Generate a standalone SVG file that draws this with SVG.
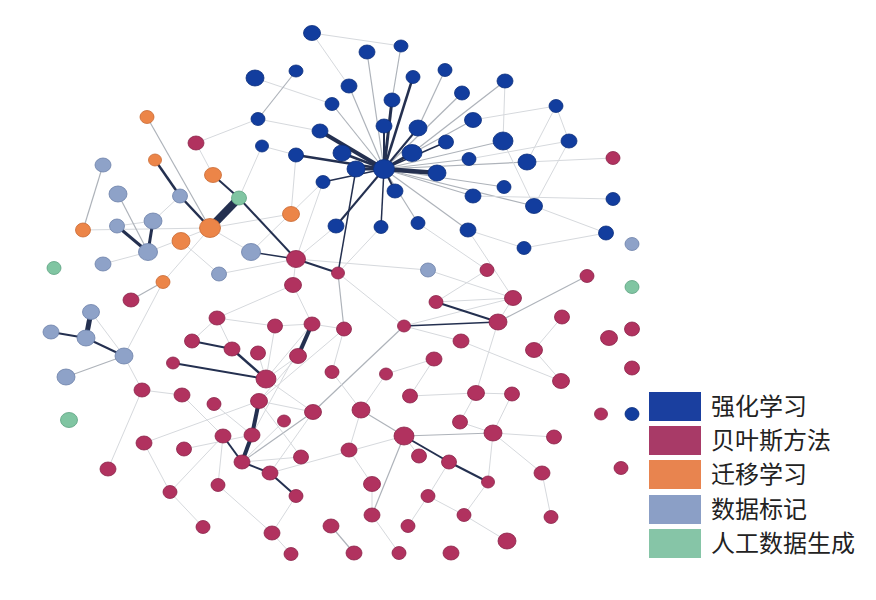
<svg xmlns="http://www.w3.org/2000/svg" width="876" height="600" viewBox="0 0 876 600">
<style>
.b{fill:#123d9e;stroke:#0b2e7c;stroke-width:0.8}
.r{fill:#b1325f;stroke:#8a2349;stroke-width:0.8}
.o{fill:#ec8548;stroke:#c96a33;stroke-width:0.8}
.l{fill:#8ea2c8;stroke:#6d82a9;stroke-width:0.8}
.g{fill:#80c5a2;stroke:#5da282;stroke-width:0.8}
.F{stroke:#d6d9dd;stroke-width:1;fill:none}
.G{stroke:#aeb3ba;stroke-width:1.2;fill:none}
.D{stroke:#243050;fill:none}
.lt{font-family:"Noto Sans CJK SC","Noto Sans",sans-serif;font-size:24px;fill:#222}
</style>
<rect width="876" height="600" fill="#fff"/>
<g id="edges">
<line class="F" x1="255" y1="78" x2="332" y2="104"/>
<line class="G" x1="296" y1="71" x2="258" y2="119"/>
<line class="F" x1="312" y1="33" x2="349" y2="86"/>
<line class="F" x1="312" y1="33" x2="401" y2="46"/>
<line class="G" x1="401" y1="46" x2="392" y2="100"/>
<line class="G" x1="367" y1="52" x2="384" y2="169"/>
<line class="G" x1="445" y1="70" x2="418" y2="128"/>
<line class="G" x1="349" y1="86" x2="384" y2="169"/>
<line class="G" x1="332" y1="104" x2="384" y2="169"/>
<line class="G" x1="505" y1="81" x2="412" y2="153"/>
<line class="G" x1="462" y1="93" x2="384" y2="169"/>
<line class="F" x1="556" y1="106" x2="473" y2="120"/>
<line class="F" x1="556" y1="106" x2="527" y2="162"/>
<line class="F" x1="556" y1="106" x2="569" y2="141"/>
<line class="F" x1="505" y1="81" x2="503" y2="141"/>
<line class="F" x1="569" y1="141" x2="469" y2="159"/>
<line class="F" x1="527" y1="162" x2="613" y2="158"/>
<line class="G" x1="473" y1="120" x2="384" y2="169"/>
<line class="G" x1="503" y1="141" x2="384" y2="169"/>
<line class="G" x1="469" y1="159" x2="384" y2="169"/>
<line class="G" x1="527" y1="162" x2="384" y2="169"/>
<line class="G" x1="473" y1="196" x2="384" y2="169"/>
<line class="G" x1="504" y1="187" x2="384" y2="169"/>
<line class="G" x1="534" y1="206" x2="384" y2="169"/>
<line class="F" x1="473" y1="196" x2="613" y2="199"/>
<line class="F" x1="534" y1="206" x2="606" y2="233"/>
<line class="F" x1="524" y1="248" x2="606" y2="233"/>
<line class="F" x1="569" y1="141" x2="534" y2="206"/>
<line class="F" x1="503" y1="141" x2="534" y2="206"/>
<line class="G" x1="418" y1="223" x2="384" y2="169"/>
<line class="G" x1="468" y1="230" x2="384" y2="169"/>
<line class="F" x1="258" y1="119" x2="320" y2="131"/>
<line class="F" x1="262" y1="146" x2="296" y2="155"/>
<line class="F" x1="468" y1="230" x2="524" y2="248"/>
<line class="F" x1="418" y1="223" x2="487" y2="270"/>
<line class="F" x1="381" y1="227" x2="338" y2="273"/>
<line class="F" x1="468" y1="230" x2="513" y2="298"/>
<line class="F" x1="323" y1="182" x2="296" y2="259"/>
<line class="F" x1="251" y1="252" x2="323" y2="182"/>
<line class="F" x1="291" y1="214" x2="296" y2="155"/>
<line class="F" x1="239" y1="198" x2="262" y2="146"/>
<line class="F" x1="296" y1="259" x2="336" y2="226"/>
<line class="F" x1="219" y1="274" x2="296" y2="259"/>
<line class="F" x1="210" y1="228" x2="251" y2="252"/>
<line class="F" x1="181" y1="241" x2="219" y2="274"/>
<line class="F" x1="196" y1="143" x2="258" y2="119"/>
<line class="F" x1="196" y1="143" x2="213" y2="175"/>
<line class="F" x1="83" y1="230" x2="210" y2="228"/>
<line class="F" x1="148" y1="252" x2="210" y2="228"/>
<line class="F" x1="210" y1="228" x2="291" y2="214"/>
<line class="G" x1="147" y1="117" x2="210" y2="228"/>
<line class="F" x1="153" y1="221" x2="180" y2="196"/>
<line class="F" x1="117" y1="226" x2="153" y2="221"/>
<line class="G" x1="103" y1="165" x2="83" y2="230"/>
<line class="G" x1="118" y1="194" x2="148" y2="252"/>
<line class="F" x1="103" y1="264" x2="148" y2="252"/>
<line class="F" x1="91" y1="312" x2="124" y2="356"/>
<line class="G" x1="131" y1="300" x2="163" y2="282"/>
<line class="F" x1="163" y1="282" x2="124" y2="356"/>
<line class="F" x1="163" y1="282" x2="210" y2="228"/>
<line class="F" x1="124" y1="356" x2="142" y2="390"/>
<line class="F" x1="296" y1="259" x2="293" y2="285"/>
<line class="F" x1="293" y1="285" x2="217" y2="318"/>
<line class="F" x1="293" y1="285" x2="312" y2="324"/>
<line class="G" x1="338" y1="273" x2="344" y2="329"/>
<line class="F" x1="296" y1="259" x2="428" y2="270"/>
<line class="F" x1="217" y1="318" x2="275" y2="326"/>
<line class="F" x1="275" y1="326" x2="312" y2="324"/>
<line class="F" x1="312" y1="324" x2="344" y2="329"/>
<line class="F" x1="275" y1="326" x2="266" y2="379"/>
<line class="F" x1="258" y1="353" x2="266" y2="379"/>
<line class="F" x1="298" y1="356" x2="266" y2="379"/>
<line class="F" x1="344" y1="329" x2="332" y2="372"/>
<line class="F" x1="312" y1="324" x2="266" y2="379"/>
<line class="F" x1="232" y1="349" x2="217" y2="318"/>
<line class="F" x1="298" y1="356" x2="259" y2="401"/>
<line class="F" x1="344" y1="329" x2="259" y2="401"/>
<line class="F" x1="312" y1="324" x2="252" y2="435"/>
<line class="G" x1="404" y1="326" x2="313" y2="412"/>
<line class="F" x1="436" y1="302" x2="513" y2="298"/>
<line class="F" x1="404" y1="326" x2="513" y2="298"/>
<line class="F" x1="498" y1="322" x2="513" y2="298"/>
<line class="G" x1="498" y1="322" x2="587" y2="276"/>
<line class="F" x1="487" y1="270" x2="436" y2="302"/>
<line class="F" x1="428" y1="270" x2="513" y2="298"/>
<line class="F" x1="498" y1="322" x2="476" y2="393"/>
<line class="F" x1="461" y1="341" x2="561" y2="381"/>
<line class="F" x1="404" y1="326" x2="461" y2="341"/>
<line class="F" x1="493" y1="433" x2="512" y2="394"/>
<line class="F" x1="144" y1="443" x2="259" y2="401"/>
<line class="F" x1="144" y1="443" x2="170" y2="492"/>
<line class="F" x1="108" y1="469" x2="142" y2="390"/>
<line class="F" x1="223" y1="436" x2="170" y2="492"/>
<line class="F" x1="223" y1="436" x2="218" y2="485"/>
<line class="F" x1="184" y1="449" x2="252" y2="435"/>
<line class="G" x1="313" y1="412" x2="242" y2="462"/>
<line class="F" x1="313" y1="412" x2="270" y2="473"/>
<line class="F" x1="301" y1="457" x2="242" y2="462"/>
<line class="F" x1="284" y1="421" x2="242" y2="462"/>
<line class="F" x1="259" y1="401" x2="301" y2="457"/>
<line class="G" x1="361" y1="410" x2="404" y2="436"/>
<line class="G" x1="404" y1="436" x2="493" y2="433"/>
<line class="G" x1="404" y1="436" x2="372" y2="515"/>
<line class="F" x1="404" y1="436" x2="419" y2="456"/>
<line class="F" x1="404" y1="436" x2="270" y2="473"/>
<line class="F" x1="493" y1="433" x2="488" y2="482"/>
<line class="G" x1="331" y1="526" x2="354" y2="553"/>
<line class="F" x1="493" y1="433" x2="460" y2="422"/>
<line class="F" x1="182" y1="395" x2="223" y2="436"/>
<line class="F" x1="214" y1="404" x2="252" y2="435"/>
<line class="F" x1="142" y1="390" x2="182" y2="395"/>
<line class="F" x1="217" y1="318" x2="192" y2="341"/>
<line class="F" x1="332" y1="372" x2="361" y2="410"/>
<line class="F" x1="259" y1="401" x2="313" y2="412"/>
<line class="F" x1="266" y1="379" x2="313" y2="412"/>
<line class="F" x1="361" y1="410" x2="349" y2="450"/>
<line class="F" x1="349" y1="450" x2="372" y2="484"/>
<line class="F" x1="372" y1="484" x2="372" y2="515"/>
<line class="F" x1="372" y1="515" x2="399" y2="553"/>
<line class="F" x1="408" y1="526" x2="428" y2="496"/>
<line class="F" x1="464" y1="515" x2="428" y2="496"/>
<line class="F" x1="507" y1="541" x2="464" y2="515"/>
<line class="F" x1="551" y1="517" x2="542" y2="473"/>
<line class="F" x1="542" y1="473" x2="493" y2="433"/>
<line class="F" x1="554" y1="437" x2="493" y2="433"/>
<line class="F" x1="534" y1="350" x2="561" y2="381"/>
<line class="F" x1="534" y1="350" x2="562" y2="317"/>
<line class="F" x1="434" y1="359" x2="410" y2="396"/>
<line class="F" x1="410" y1="396" x2="476" y2="393"/>
<line class="F" x1="476" y1="393" x2="512" y2="394"/>
<line class="F" x1="460" y1="422" x2="476" y2="393"/>
<line class="F" x1="488" y1="482" x2="464" y2="515"/>
<line class="F" x1="449" y1="462" x2="428" y2="496"/>
<line class="F" x1="218" y1="485" x2="272" y2="533"/>
<line class="F" x1="296" y1="496" x2="272" y2="533"/>
<line class="F" x1="272" y1="533" x2="291" y2="554"/>
<line class="F" x1="203" y1="527" x2="170" y2="492"/>
<line class="F" x1="361" y1="410" x2="386" y2="374"/>
<line class="F" x1="386" y1="374" x2="434" y2="359"/>
<line class="F" x1="338" y1="273" x2="404" y2="326"/>
<line class="D" stroke-width="4" x1="384" y1="169" x2="320" y2="131"/>
<line class="D" stroke-width="2.5" x1="384" y1="169" x2="296" y2="155"/>
<line class="D" stroke-width="3" x1="384" y1="169" x2="356" y2="169"/>
<line class="D" stroke-width="4.5" x1="384" y1="169" x2="437" y2="173"/>
<line class="D" stroke-width="3" x1="384" y1="169" x2="412" y2="153"/>
<line class="D" stroke-width="3" x1="384" y1="169" x2="392" y2="100"/>
<line class="D" stroke-width="2.5" x1="384" y1="169" x2="413" y2="77"/>
<line class="D" stroke-width="2" x1="384" y1="169" x2="336" y2="226"/>
<line class="D" stroke-width="1.5" x1="384" y1="169" x2="381" y2="227"/>
<line class="D" stroke-width="1.5" x1="384" y1="169" x2="323" y2="182"/>
<line class="D" stroke-width="2" x1="384" y1="169" x2="395" y2="191"/>
<line class="D" stroke-width="2" x1="384" y1="169" x2="418" y2="128"/>
<line class="D" stroke-width="2" x1="384" y1="169" x2="384" y2="126"/>
<line class="D" stroke-width="2.5" x1="384" y1="169" x2="342" y2="153"/>
<line class="D" stroke-width="1.5" x1="384" y1="169" x2="446" y2="142"/>
<line class="D" stroke-width="2.5" x1="155" y1="160" x2="180" y2="196"/>
<line class="D" stroke-width="2.5" x1="180" y1="196" x2="210" y2="228"/>
<line class="D" stroke-width="2" x1="213" y1="175" x2="239" y2="198"/>
<line class="D" stroke-width="8" x1="210" y1="228" x2="239" y2="198"/>
<line class="D" stroke-width="2" x1="239" y1="198" x2="296" y2="259"/>
<line class="D" stroke-width="3" x1="117" y1="226" x2="148" y2="252"/>
<line class="D" stroke-width="3" x1="153" y1="221" x2="148" y2="252"/>
<line class="D" stroke-width="5" x1="91" y1="312" x2="86" y2="338"/>
<line class="D" stroke-width="2" x1="51" y1="332" x2="86" y2="338"/>
<line class="D" stroke-width="2" x1="86" y1="338" x2="124" y2="356"/>
<line class="G" stroke-width="1.6" x1="124" y1="356" x2="66" y2="377"/>
<line class="D" stroke-width="1.5" x1="251" y1="252" x2="296" y2="259"/>
<line class="D" stroke-width="2" x1="296" y1="259" x2="338" y2="273"/>
<line class="D" stroke-width="1.5" x1="338" y1="273" x2="356" y2="169"/>
<line class="D" stroke-width="4" x1="312" y1="324" x2="298" y2="356"/>
<line class="D" stroke-width="2" x1="192" y1="341" x2="232" y2="349"/>
<line class="D" stroke-width="2.5" x1="232" y1="349" x2="266" y2="379"/>
<line class="D" stroke-width="2" x1="173" y1="363" x2="266" y2="379"/>
<line class="D" stroke-width="4" x1="259" y1="401" x2="252" y2="435"/>
<line class="D" stroke-width="4" x1="252" y1="435" x2="242" y2="462"/>
<line class="D" stroke-width="2" x1="223" y1="436" x2="242" y2="462"/>
<line class="D" stroke-width="2" x1="242" y1="462" x2="270" y2="473"/>
<line class="D" stroke-width="2" x1="270" y1="473" x2="296" y2="496"/>
<line class="D" stroke-width="2" x1="436" y1="302" x2="498" y2="322"/>
<line class="D" stroke-width="1.5" x1="404" y1="326" x2="498" y2="322"/>
<line class="D" stroke-width="2" x1="404" y1="436" x2="449" y2="462"/>
<line class="D" stroke-width="2" x1="449" y1="462" x2="488" y2="482"/>
</g>
<g id="n-b1"><ellipse class="b" cx="312" cy="33" rx="8.5" ry="7.5"/></g>
<g id="n-b2"><ellipse class="b" cx="367" cy="52" rx="8" ry="7"/></g>
<g id="n-b3"><ellipse class="b" cx="401" cy="46" rx="7" ry="6"/></g>
<g id="n-b4"><ellipse class="b" cx="255" cy="78" rx="9" ry="8"/></g>
<g id="n-b5"><ellipse class="b" cx="296" cy="71" rx="7" ry="6"/></g>
<g id="n-b6"><ellipse class="b" cx="349" cy="86" rx="8" ry="7"/></g>
<g id="n-b7"><ellipse class="b" cx="413" cy="77" rx="7" ry="6.5"/></g>
<g id="n-b8"><ellipse class="b" cx="445" cy="70" rx="7" ry="6.5"/></g>
<g id="n-b9"><ellipse class="b" cx="505" cy="81" rx="8" ry="7"/></g>
<g id="n-b10"><ellipse class="b" cx="258" cy="119" rx="7" ry="6.5"/></g>
<g id="n-b11"><ellipse class="b" cx="332" cy="104" rx="7" ry="6.5"/></g>
<g id="n-b12"><ellipse class="b" cx="392" cy="100" rx="8" ry="7"/></g>
<g id="n-b14"><ellipse class="b" cx="462" cy="93" rx="7.5" ry="7"/></g>
<g id="n-b15"><ellipse class="b" cx="556" cy="106" rx="7" ry="6.5"/></g>
<g id="n-b16"><ellipse class="b" cx="320" cy="131" rx="8" ry="7"/></g>
<g id="n-b17"><ellipse class="b" cx="384" cy="126" rx="8" ry="7"/></g>
<g id="n-b18"><ellipse class="b" cx="418" cy="128" rx="9" ry="8"/></g>
<g id="n-b19"><ellipse class="b" cx="473" cy="120" rx="8.5" ry="7.5"/></g>
<g id="n-b20"><ellipse class="b" cx="503" cy="141" rx="10" ry="9"/></g>
<g id="n-b21"><ellipse class="b" cx="569" cy="141" rx="8" ry="7"/></g>
<g id="n-b22"><ellipse class="b" cx="262" cy="146" rx="6.5" ry="6"/></g>
<g id="n-b23"><ellipse class="b" cx="296" cy="155" rx="7.5" ry="7"/></g>
<g id="n-b24"><ellipse class="b" cx="342" cy="153" rx="9" ry="8"/></g>
<g id="n-b25"><ellipse class="b" cx="412" cy="153" rx="10" ry="8.5"/></g>
<g id="n-b26"><ellipse class="b" cx="446" cy="142" rx="7.5" ry="7"/></g>
<g id="n-b27"><ellipse class="b" cx="469" cy="159" rx="7" ry="6.5"/></g>
<g id="n-b28"><ellipse class="b" cx="527" cy="162" rx="9" ry="8"/></g>
<g id="n-b29"><ellipse class="b" cx="384" cy="169" rx="10.5" ry="9.5"/></g>
<g id="n-b30"><ellipse class="b" cx="356" cy="169" rx="9" ry="8"/></g>
<g id="n-b31"><ellipse class="b" cx="437" cy="173" rx="9" ry="8"/></g>
<g id="n-b32"><ellipse class="b" cx="323" cy="182" rx="7" ry="6.5"/></g>
<g id="n-b33"><ellipse class="b" cx="395" cy="191" rx="8" ry="7"/></g>
<g id="n-b34"><ellipse class="b" cx="473" cy="196" rx="8" ry="7"/></g>
<g id="n-b35"><ellipse class="b" cx="504" cy="187" rx="7" ry="6.5"/></g>
<g id="n-b36"><ellipse class="b" cx="534" cy="206" rx="8.5" ry="7.5"/></g>
<g id="n-b37"><ellipse class="b" cx="613" cy="199" rx="7" ry="6.5"/></g>
<g id="n-b38"><ellipse class="b" cx="336" cy="226" rx="8" ry="7"/></g>
<g id="n-b39"><ellipse class="b" cx="381" cy="227" rx="7" ry="6.5"/></g>
<g id="n-b40"><ellipse class="b" cx="418" cy="223" rx="7" ry="6.5"/></g>
<g id="n-b41"><ellipse class="b" cx="468" cy="230" rx="8" ry="7"/></g>
<g id="n-b42"><ellipse class="b" cx="524" cy="248" rx="7" ry="6.5"/></g>
<g id="n-b43"><ellipse class="b" cx="606" cy="233" rx="7.5" ry="7"/></g>
<g id="n-b44"><ellipse class="b" cx="632" cy="414" rx="7" ry="6.5"/></g>
<g id="n-r1"><ellipse class="r" cx="196" cy="143" rx="8" ry="7"/></g>
<g id="n-r2"><ellipse class="r" cx="613" cy="158" rx="7" ry="6.5"/></g>
<g id="n-r3"><ellipse class="r" cx="296" cy="259" rx="9.5" ry="8.5"/></g>
<g id="n-r4"><ellipse class="r" cx="338" cy="273" rx="6.5" ry="6"/></g>
<g id="n-r5"><ellipse class="r" cx="293" cy="285" rx="8.5" ry="7.5"/></g>
<g id="n-r6"><ellipse class="r" cx="487" cy="270" rx="7" ry="6.5"/></g>
<g id="n-r7"><ellipse class="r" cx="587" cy="276" rx="7" ry="6.5"/></g>
<g id="n-r8"><ellipse class="r" cx="131" cy="300" rx="8" ry="7"/></g>
<g id="n-r9"><ellipse class="r" cx="436" cy="302" rx="7" ry="6.5"/></g>
<g id="n-r10"><ellipse class="r" cx="513" cy="298" rx="8.5" ry="7.5"/></g>
<g id="n-r11"><ellipse class="r" cx="217" cy="318" rx="8" ry="7"/></g>
<g id="n-r12"><ellipse class="r" cx="275" cy="326" rx="7.5" ry="7"/></g>
<g id="n-r13"><ellipse class="r" cx="312" cy="324" rx="8" ry="7"/></g>
<g id="n-r14"><ellipse class="r" cx="344" cy="329" rx="7.5" ry="7"/></g>
<g id="n-r15"><ellipse class="r" cx="404" cy="326" rx="6.5" ry="6"/></g>
<g id="n-r16"><ellipse class="r" cx="498" cy="322" rx="9" ry="8"/></g>
<g id="n-r17"><ellipse class="r" cx="562" cy="317" rx="7.5" ry="7"/></g>
<g id="n-r18"><ellipse class="r" cx="632" cy="329" rx="7.5" ry="7"/></g>
<g id="n-r19"><ellipse class="r" cx="609" cy="338" rx="8.5" ry="7.5"/></g>
<g id="n-r20"><ellipse class="r" cx="192" cy="341" rx="7.5" ry="7"/></g>
<g id="n-r21"><ellipse class="r" cx="232" cy="349" rx="8" ry="7"/></g>
<g id="n-r22"><ellipse class="r" cx="258" cy="353" rx="7.5" ry="7"/></g>
<g id="n-r23"><ellipse class="r" cx="298" cy="356" rx="8.5" ry="7.5"/></g>
<g id="n-r24"><ellipse class="r" cx="461" cy="341" rx="8" ry="7"/></g>
<g id="n-r25"><ellipse class="r" cx="173" cy="363" rx="6.5" ry="6"/></g>
<g id="n-r26"><ellipse class="r" cx="534" cy="350" rx="8.5" ry="7.5"/></g>
<g id="n-r27"><ellipse class="r" cx="434" cy="359" rx="8" ry="7"/></g>
<g id="n-r28"><ellipse class="r" cx="266" cy="379" rx="10" ry="9"/></g>
<g id="n-r29"><ellipse class="r" cx="332" cy="372" rx="7" ry="6.5"/></g>
<g id="n-r30"><ellipse class="r" cx="386" cy="374" rx="6.5" ry="6"/></g>
<g id="n-r31"><ellipse class="r" cx="632" cy="368" rx="7.5" ry="7"/></g>
<g id="n-r32"><ellipse class="r" cx="561" cy="381" rx="8.5" ry="7.5"/></g>
<g id="n-r33"><ellipse class="r" cx="142" cy="390" rx="8" ry="7"/></g>
<g id="n-r34"><ellipse class="r" cx="182" cy="395" rx="8" ry="7"/></g>
<g id="n-r35"><ellipse class="r" cx="214" cy="404" rx="7" ry="6.5"/></g>
<g id="n-r36"><ellipse class="r" cx="259" cy="401" rx="8.5" ry="7.5"/></g>
<g id="n-r37"><ellipse class="r" cx="410" cy="396" rx="7.5" ry="7"/></g>
<g id="n-r38"><ellipse class="r" cx="476" cy="393" rx="8.5" ry="7.5"/></g>
<g id="n-r39"><ellipse class="r" cx="512" cy="394" rx="7.5" ry="7"/></g>
<g id="n-r40"><ellipse class="r" cx="313" cy="412" rx="8.5" ry="7.5"/></g>
<g id="n-r41"><ellipse class="r" cx="361" cy="410" rx="9" ry="8"/></g>
<g id="n-r42"><ellipse class="r" cx="284" cy="421" rx="6.5" ry="6"/></g>
<g id="n-r43"><ellipse class="r" cx="601" cy="414" rx="6.5" ry="6"/></g>
<g id="n-r44"><ellipse class="r" cx="460" cy="422" rx="7.5" ry="7"/></g>
<g id="n-r45"><ellipse class="r" cx="223" cy="436" rx="8" ry="7"/></g>
<g id="n-r46"><ellipse class="r" cx="252" cy="435" rx="8" ry="7"/></g>
<g id="n-r47"><ellipse class="r" cx="404" cy="436" rx="10" ry="9"/></g>
<g id="n-r48"><ellipse class="r" cx="493" cy="433" rx="9" ry="8"/></g>
<g id="n-r49"><ellipse class="r" cx="554" cy="437" rx="7.5" ry="7"/></g>
<g id="n-r50"><ellipse class="r" cx="144" cy="443" rx="8" ry="7"/></g>
<g id="n-r51"><ellipse class="r" cx="184" cy="449" rx="7.5" ry="7"/></g>
<g id="n-r52"><ellipse class="r" cx="349" cy="450" rx="8" ry="7"/></g>
<g id="n-r53"><ellipse class="r" cx="419" cy="456" rx="7.5" ry="7"/></g>
<g id="n-r54"><ellipse class="r" cx="301" cy="457" rx="7.5" ry="7"/></g>
<g id="n-r55"><ellipse class="r" cx="242" cy="462" rx="8" ry="7"/></g>
<g id="n-r56"><ellipse class="r" cx="449" cy="462" rx="7.5" ry="7"/></g>
<g id="n-r57"><ellipse class="r" cx="108" cy="469" rx="8" ry="7"/></g>
<g id="n-r58"><ellipse class="r" cx="270" cy="473" rx="8" ry="7"/></g>
<g id="n-r59"><ellipse class="r" cx="621" cy="468" rx="7" ry="6.5"/></g>
<g id="n-r60"><ellipse class="r" cx="542" cy="473" rx="8" ry="7"/></g>
<g id="n-r61"><ellipse class="r" cx="372" cy="484" rx="8.5" ry="7.5"/></g>
<g id="n-r62"><ellipse class="r" cx="488" cy="482" rx="6.5" ry="6"/></g>
<g id="n-r63"><ellipse class="r" cx="218" cy="485" rx="7" ry="6.5"/></g>
<g id="n-r64"><ellipse class="r" cx="170" cy="492" rx="7" ry="6.5"/></g>
<g id="n-r65"><ellipse class="r" cx="296" cy="496" rx="7" ry="6.5"/></g>
<g id="n-r66"><ellipse class="r" cx="428" cy="496" rx="7" ry="6.5"/></g>
<g id="n-r67"><ellipse class="r" cx="203" cy="527" rx="7" ry="6.5"/></g>
<g id="n-r68"><ellipse class="r" cx="272" cy="533" rx="8" ry="7"/></g>
<g id="n-r69"><ellipse class="r" cx="331" cy="526" rx="8" ry="7"/></g>
<g id="n-r70"><ellipse class="r" cx="372" cy="515" rx="8" ry="7"/></g>
<g id="n-r71"><ellipse class="r" cx="408" cy="526" rx="7" ry="6.5"/></g>
<g id="n-r72"><ellipse class="r" cx="464" cy="515" rx="7" ry="6.5"/></g>
<g id="n-r73"><ellipse class="r" cx="551" cy="517" rx="7" ry="6.5"/></g>
<g id="n-r74"><ellipse class="r" cx="507" cy="541" rx="9" ry="8"/></g>
<g id="n-r75"><ellipse class="r" cx="291" cy="554" rx="7" ry="6.5"/></g>
<g id="n-r76"><ellipse class="r" cx="354" cy="553" rx="8" ry="7"/></g>
<g id="n-r77"><ellipse class="r" cx="399" cy="553" rx="7" ry="6.5"/></g>
<g id="n-r78"><ellipse class="r" cx="451" cy="553" rx="8" ry="7"/></g>
<g id="n-l1"><ellipse class="l" cx="103" cy="165" rx="8" ry="7"/></g>
<g id="n-l2"><ellipse class="l" cx="118" cy="194" rx="9" ry="8"/></g>
<g id="n-l3"><ellipse class="l" cx="180" cy="196" rx="7.5" ry="7"/></g>
<g id="n-l4"><ellipse class="l" cx="153" cy="221" rx="9" ry="8"/></g>
<g id="n-l5"><ellipse class="l" cx="117" cy="226" rx="7.5" ry="7"/></g>
<g id="n-l6"><ellipse class="l" cx="148" cy="252" rx="9.5" ry="8.5"/></g>
<g id="n-l7"><ellipse class="l" cx="103" cy="264" rx="8" ry="7"/></g>
<g id="n-l8"><ellipse class="l" cx="251" cy="252" rx="9.5" ry="8.5"/></g>
<g id="n-l9"><ellipse class="l" cx="219" cy="274" rx="7.5" ry="7"/></g>
<g id="n-l10"><ellipse class="l" cx="428" cy="270" rx="7.5" ry="7"/></g>
<g id="n-l11"><ellipse class="l" cx="632" cy="244" rx="7" ry="6.5"/></g>
<g id="n-l12"><ellipse class="l" cx="91" cy="312" rx="8.5" ry="7.5"/></g>
<g id="n-l13"><ellipse class="l" cx="51" cy="332" rx="8" ry="7"/></g>
<g id="n-l14"><ellipse class="l" cx="86" cy="338" rx="9" ry="8"/></g>
<g id="n-l15"><ellipse class="l" cx="124" cy="356" rx="9" ry="8"/></g>
<g id="n-l16"><ellipse class="l" cx="66" cy="377" rx="9" ry="8"/></g>
<g id="n-o1"><ellipse class="o" cx="147" cy="117" rx="7" ry="6.5"/></g>
<g id="n-o2"><ellipse class="o" cx="155" cy="160" rx="6.5" ry="6"/></g>
<g id="n-o3"><ellipse class="o" cx="213" cy="175" rx="8.5" ry="7.5"/></g>
<g id="n-o4"><ellipse class="o" cx="291" cy="214" rx="8.5" ry="7.5"/></g>
<g id="n-o5"><ellipse class="o" cx="83" cy="230" rx="7.5" ry="7"/></g>
<g id="n-o6"><ellipse class="o" cx="210" cy="228" rx="10.5" ry="9.5"/></g>
<g id="n-o7"><ellipse class="o" cx="181" cy="241" rx="9" ry="8.5"/></g>
<g id="n-o8"><ellipse class="o" cx="163" cy="282" rx="7" ry="6.5"/></g>
<g id="n-g1"><ellipse class="g" cx="239" cy="198" rx="7.5" ry="7"/></g>
<g id="n-g2"><ellipse class="g" cx="54" cy="268" rx="7" ry="6.5"/></g>
<g id="n-g3"><ellipse class="g" cx="632" cy="287" rx="7" ry="6.5"/></g>
<g id="n-g4"><ellipse class="g" cx="69" cy="420" rx="8.5" ry="7.5"/></g>
<g id="legend">
<rect x="649" y="392" width="52" height="29" fill="#1a3f9f"/>
<rect x="649" y="426" width="52" height="29" fill="#a83a67"/>
<rect x="649" y="460" width="52" height="29" fill="#e8844f"/>
<rect x="649" y="495" width="52" height="29" fill="#8b9fc6"/>
<rect x="649" y="529" width="52" height="29" fill="#86c5a7"/>
<text class="lt" x="711" y="415">强化学习</text>
<text class="lt" x="711" y="449">贝叶斯方法</text>
<text class="lt" x="711" y="483">迁移学习</text>
<text class="lt" x="711" y="518">数据标记</text>
<text class="lt" x="711" y="552">人工数据生成</text>
</g>
</svg>
